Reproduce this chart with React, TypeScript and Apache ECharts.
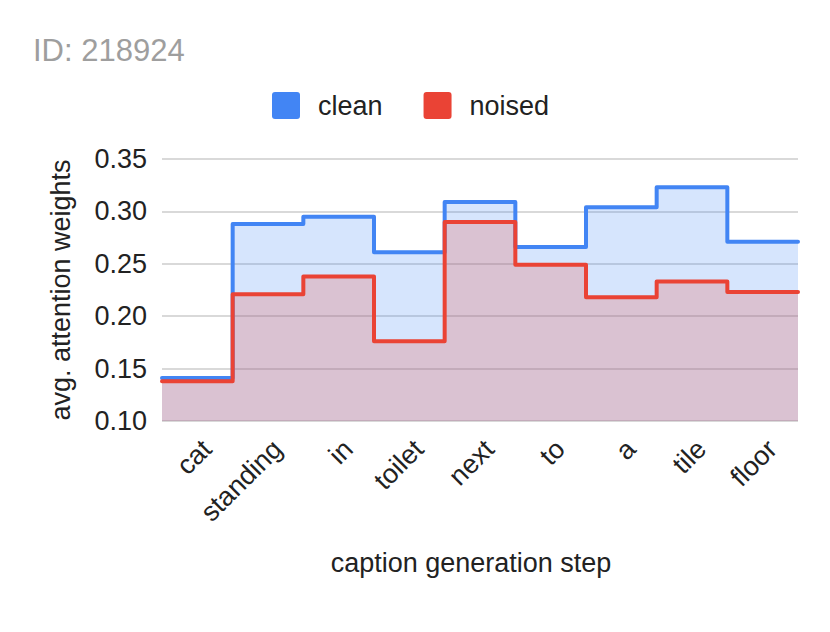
import React, { useEffect, useRef } from "react";
import * as echarts from "echarts";

const categories = ["cat", "standing", "in", "toilet", "next", "to", "a", "tile", "floor"];
const cleanValues = [0.141, 0.288, 0.295, 0.261, 0.309, 0.266, 0.304, 0.323, 0.271];
const noisedValues = [0.138, 0.221, 0.238, 0.176, 0.29, 0.249, 0.218, 0.233, 0.223];
const yTicks = [0.1, 0.15, 0.2, 0.25, 0.3, 0.35];

const stepData = (vals: number[]) => {
  const pts = vals.map((v, i) => [i, v]);
  pts.push([vals.length, vals[vals.length - 1]]);
  return pts;
};

const legendIcon = "path://M3,0 H25 Q28,0 28,3 V24 Q28,27 25,27 H3 Q0,27 0,24 V3 Q0,0 3,0 Z";

export default function App() {
  const ref = useRef<HTMLDivElement>(null);
  useEffect(() => {
    const chart = echarts.init(ref.current!, null, { renderer: "svg" });
    const font = "Liberation Sans, Arial, sans-serif";
    chart.setOption({
      animation: false,
      textStyle: { fontFamily: font },
      title: {
        text: "ID: 218924",
        left: 28,
        top: 30,
        textStyle: { color: "#9e9e9e", fontSize: 31, fontWeight: "normal", fontFamily: font },
      },
      legend: {
        top: 87,
        left: 267,
        itemWidth: 28,
        itemHeight: 27,
        itemGap: 41,
        icon: legendIcon,
        textStyle: { fontSize: 27, color: "#222", fontFamily: font, padding: [0, 0, 0, 13] },
        data: [
          { name: "clean", itemStyle: { color: "#4285F4" } },
          { name: "noised", itemStyle: { color: "#EA4335" } },
        ],
      },
      grid: { left: 162, right: 32, top: 159, bottom: 211 },
      xAxis: [
        {
          type: "value",
          min: 0,
          max: categories.length,
          show: false,
        },
        {
          type: "category",
          data: categories,
          boundaryGap: true,
          position: "bottom",
          axisLine: { show: false },
          axisTick: { show: false },
          axisLabel: {
            rotate: 45,
            fontSize: 27,
            color: "#222",
            margin: 14,
            fontFamily: font,
            verticalAlign: "top",
          },
          name: "caption generation step",
          nameLocation: "middle",
          nameGap: 128,
          nameTextStyle: { fontSize: 27, color: "#222", fontFamily: font, padding: [0, 18, 0, 0] },
        },
      ],
      yAxis: {
        type: "value",
        min: 0.1,
        max: 0.35,
        interval: 0.05,
        axisLine: { show: false },
        axisTick: { show: false },
        axisLabel: {
          fontSize: 27,
          color: "#222",
          margin: 15,
          fontFamily: font,
          formatter: (v: number) => {
            const t = yTicks.find((x) => Math.abs(x - v) < 1e-9);
            return (t ?? v).toFixed(2);
          },
        },
        splitLine: { lineStyle: { color: "#cccccc", width: 1.5 } },
        name: "avg. attention weights",
        nameLocation: "middle",
        nameGap: 88,
        nameTextStyle: { fontSize: 27, color: "#222", fontFamily: font },
      },
      series: [
        {
          name: "clean",
          type: "line",
          xAxisIndex: 0,
          step: "end",
          symbol: "none",
          data: stepData(cleanValues),
          lineStyle: { color: "#4285F4", width: 4, join: "round", cap: "round" },
          itemStyle: { color: "#4285F4" },
          areaStyle: { color: "rgba(66,133,244,0.31)", origin: "start" },
        },
        {
          name: "noised",
          type: "line",
          xAxisIndex: 0,
          step: "end",
          symbol: "none",
          data: stepData(noisedValues),
          lineStyle: { color: "#EA4335", width: 4, join: "round", cap: "round" },
          itemStyle: { color: "#EA4335" },
          areaStyle: { color: "rgba(234,67,53,0.3)", origin: "start" },
        },
      ],
    });
    return () => chart.dispose();
  }, []);
  return <div ref={ref} style={{ width: 830, height: 632, margin: -8, background: "#fff" }} />;
}
